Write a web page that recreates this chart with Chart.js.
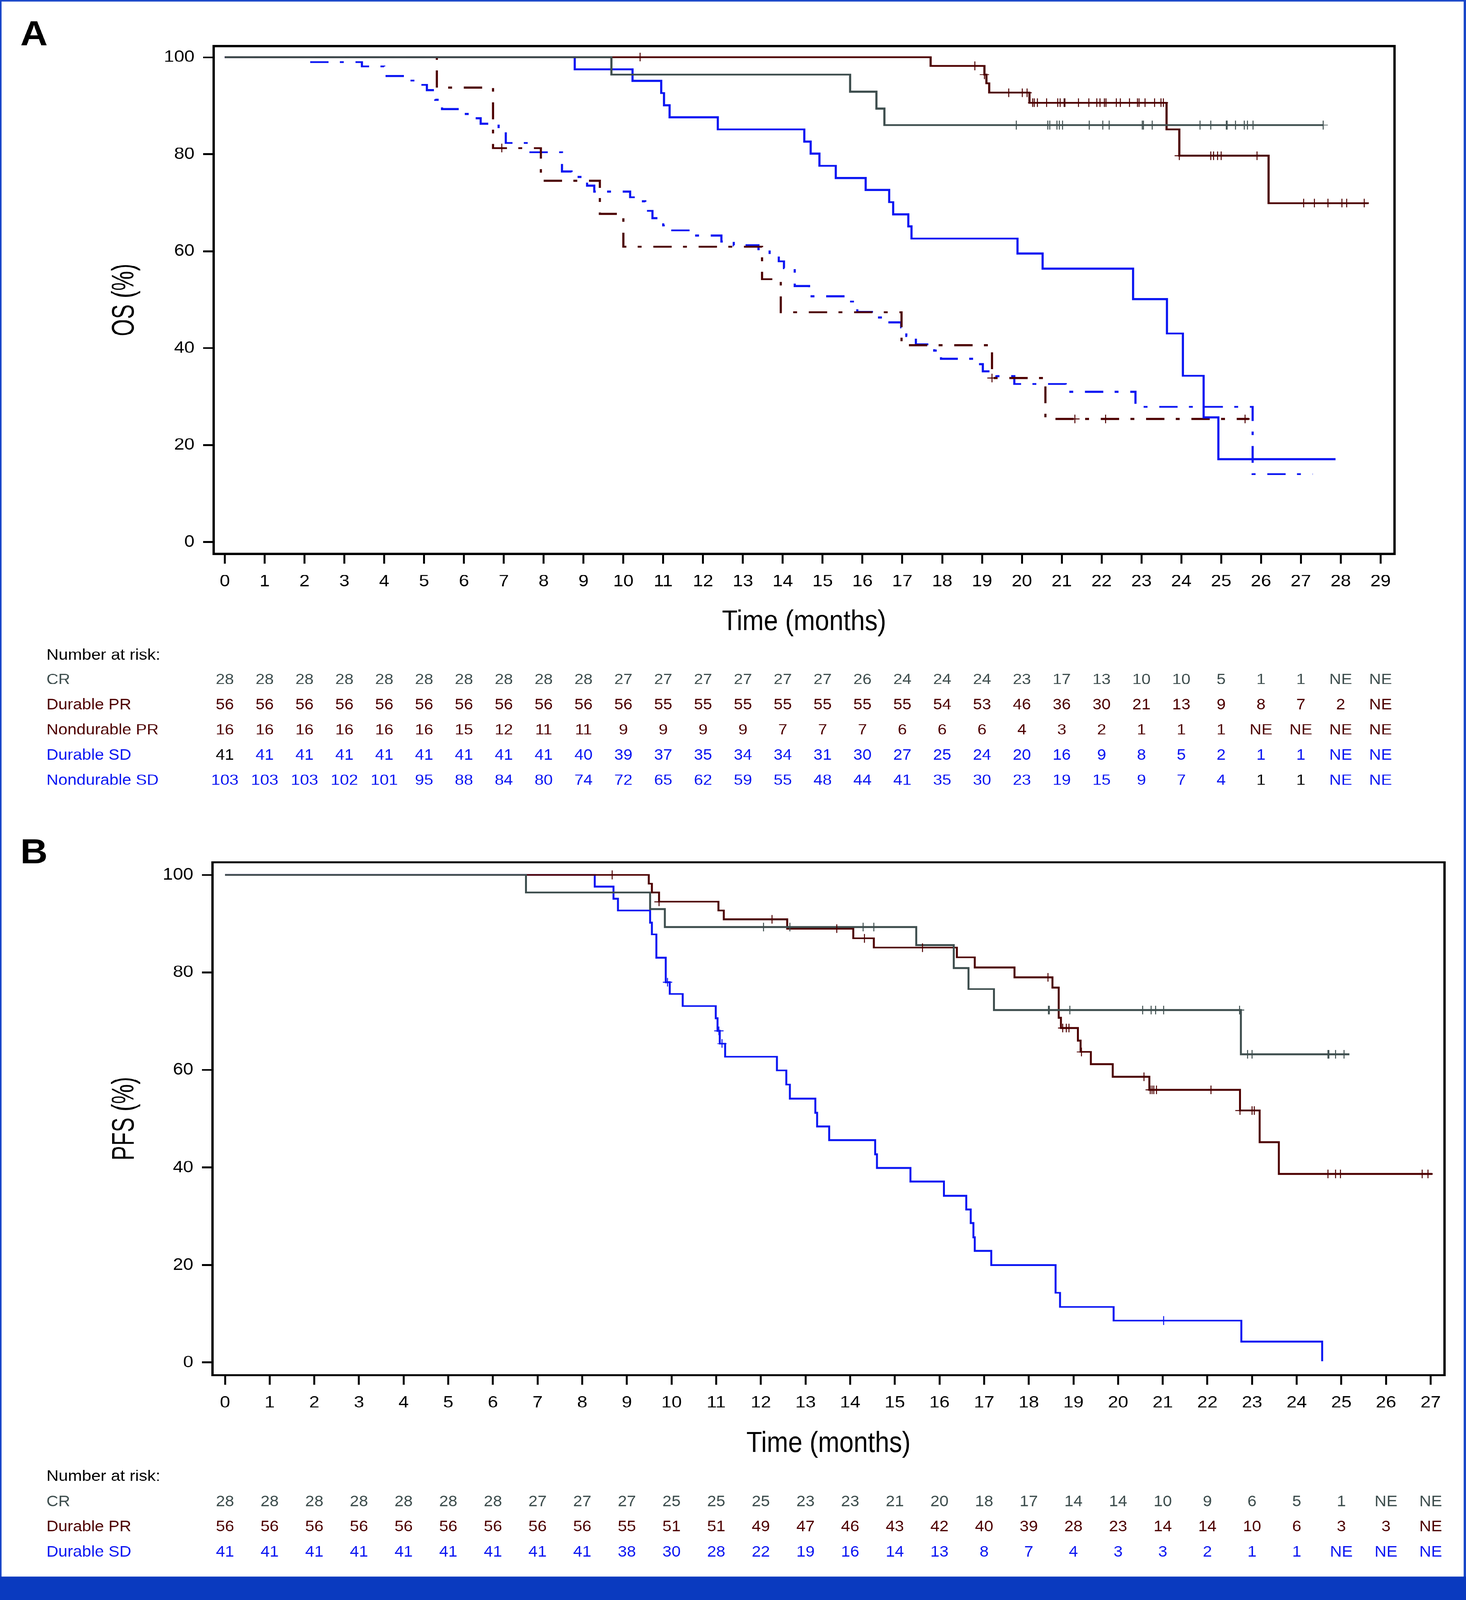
<!DOCTYPE html>
<html>
<head>
<meta charset="utf-8">
<title>OS and PFS by response</title>
<script src="https://cdn.jsdelivr.net/npm/chart.js@4.4.1/dist/chart.umd.min.js"></script>
<style>
  html, body { margin: 0; padding: 0; background: #fff; overflow: hidden; }
  #page { position: relative; width: 3753px; height: 4448px; background: #fff; overflow: hidden; transform-origin: 0 0; }
  #page canvas { position: absolute; left: 0; }
  #cA { top: 0; }
  #cB { top: 2240px; }
  #edge { position: absolute; left: 0; top: 0; width: 3753px; height: 4448px; box-sizing: border-box;
          border-top: 4px solid #1a47c9; border-left: 4px solid #1a47c9; border-right: 6px solid #1a47c9; pointer-events: none; }
  #bar { position: absolute; left: 0; top: 4383px; width: 3753px; height: 65px; background: #0a3abf; }
</style>
</head>
<body>
<div id="page">
  <canvas id="cA" width="3753" height="2240"></canvas>
  <canvas id="cB" width="3753" height="2143"></canvas>
  <div id="edge"></div>
  <div id="bar"></div>
</div>
<script>
// ---------- panel A : OS ----------
const osTicksX = [0,1,2,3,4,5,6,7,8,9,10,11,12,13,14,15,16,17,18,19,20,21,22,23,24,25,26,27,28,29];
const osTicksY = [0,20,40,60,80,100];

const osCrT = [0, 9.70, 15.69, 16.35, 16.55, 27.56];
const osCrS = [100, 96.4, 92.9, 89.4, 86.0, 86.0];
const osCrCens = [19.86,20.65,20.70,20.88,20.94,21.02,21.69,22.03,22.19,23.02,23.05,23.27,24.47,24.74,25.13,25.15,25.36,25.58,25.66,25.80,27.56];

const osDprT = [0, 17.71, 19.06, 19.11, 19.18, 20.19, 23.63, 23.95, 26.19, 28.70];
const osDprS = [100, 98.2, 96.4, 94.6, 92.7, 90.6, 85.1, 79.7, 69.9, 69.9];
const osDprCens = [10.42,18.82,19.06,19.67,20.01,20.13,20.27,20.31,20.39,20.62,20.90,20.96,21.06,21.08,21.42,21.68,21.88,21.96,22.07,22.11,22.37,22.47,22.70,22.90,22.94,23.09,23.33,23.49,23.55,23.95,24.74,24.81,24.91,25.00,25.90,27.07,27.34,27.68,28.03,28.15,28.59];

const osNprT = [0, 5.32, 6.73, 7.93, 9.41, 10.00, 13.48, 13.95, 16.98, 19.25, 20.59, 25.70];
const osNprS = [100, 93.75, 81.25, 74.5, 67.7, 60.9, 54.2, 47.4, 40.6, 33.85, 25.4, 25.4];
const osNprCens = [6.95, 19.25, 21.33, 22.10, 25.60];

const osDsdT = [0, 8.78, 10.23, 10.95, 11.02, 11.16, 12.37, 14.54, 14.70, 14.92, 15.33, 16.08, 16.67, 16.77, 17.15, 17.23, 19.89, 20.52, 22.79, 23.64, 24.04, 24.56, 24.93, 27.87];
const osDsdS = [100, 97.5, 95.1, 92.6, 90.1, 87.6, 85.1, 82.6, 80.1, 77.6, 75.1, 72.6, 70.1, 67.6, 65.1, 62.6, 59.5, 56.4, 50.1, 43.0, 34.3, 25.7, 17.1, 17.1];

const osNsdT = [0, 2.13, 3.44, 4.00, 4.55, 4.85, 5.07, 5.28, 5.45, 5.90, 6.20, 6.42, 6.87, 7.05, 7.67, 8.46, 8.70, 9.09, 9.27, 10.17, 10.35, 10.55, 10.73, 11.00, 11.20, 11.70, 12.46, 12.77, 13.39, 13.67, 13.90, 14.03, 14.30, 14.66, 15.60, 15.87, 16.30, 16.55, 16.97, 17.10, 17.34, 17.80, 17.97, 18.90, 19.02, 19.36, 19.81, 21.10, 22.85, 25.79, 27.30];
const osNsdS = [100, 99.0, 98.1, 96.1, 95.2, 94.3, 93.2, 91.2, 89.3, 88.3, 87.4, 86.3, 85.3, 82.3, 80.4, 76.4, 75.3, 73.5, 72.3, 71.1, 70.3, 68.3, 66.8, 65.3, 64.3, 63.2, 62.0, 61.2, 60.4, 59.3, 57.9, 56.5, 52.8, 50.7, 49.6, 47.5, 46.3, 45.3, 44.3, 42.5, 40.8, 39.5, 37.8, 36.7, 35.2, 34.2, 32.6, 31.0, 27.9, 14.0, 14.0];

const osRiskCR  = ['28','28','28','28','28','28','28','28','28','28','27','27','27','27','27','27','26','24','24','24','23','17','13','10','10','5','1','1','NE','NE'];
const osRiskDPR = ['56','56','56','56','56','56','56','56','56','56','56','55','55','55','55','55','55','55','54','53','46','36','30','21','13','9','8','7','2','NE'];
const osRiskNPR = ['16','16','16','16','16','16','15','12','11','11','9','9','9','9','7','7','7','6','6','6','4','3','2','1','1','1','NE','NE','NE','NE'];
const osRiskDSD = ['41','41','41','41','41','41','41','41','41','40','39','37','35','34','34','31','30','27','25','24','20','16','9','8','5','2','1','1','NE','NE'];
const osRiskNSD = ['103','103','103','102','101','95','88','84','80','74','72','65','62','59','55','48','44','41','35','30','23','19','15','9','7','4','1','1','NE','NE'];

// ---------- panel B : PFS ----------
const pfsTicksX = [0,1,2,3,4,5,6,7,8,9,10,11,12,13,14,15,16,17,18,19,20,21,22,23,24,25,26,27];
const pfsTicksY = [0,20,40,60,80,100];

const pfsCrT = [0, 6.74, 9.52, 9.85, 15.48, 16.32, 16.65, 17.22, 22.75, 25.18];
const pfsCrS = [100, 96.4, 93.0, 89.3, 85.6, 80.9, 76.6, 72.3, 63.2, 63.2];
const pfsCrCens = [12.06,12.65,14.29,14.53,18.44,18.46,18.92,20.55,20.74,20.84,21.02,22.72,22.90,23.00,24.70,24.72,24.87,25.06];

const pfsDprT = [0, 9.49, 9.56, 9.72, 11.05, 11.17, 12.59, 14.07, 14.53, 16.39, 16.79, 17.68, 18.53, 18.67, 18.72, 19.10, 19.16, 19.39, 19.88, 20.70, 22.73, 23.17, 23.60, 27.04];
const pfsDprS = [100, 98.2, 96.4, 94.5, 92.7, 90.9, 89.0, 87.0, 85.1, 83.1, 81.0, 79.0, 76.9, 70.7, 68.6, 66.0, 63.7, 61.2, 58.6, 55.9, 51.7, 45.2, 38.7, 38.7];
const pfsDprCens = [8.67,9.72,12.25,13.70,14.32,15.62,18.43,18.76,18.84,18.90,19.18,20.58,20.72,20.76,20.80,20.86,22.08,22.73,23.00,23.05,24.70,24.87,24.98,26.81,26.94];

const pfsDsdT = [0, 8.28, 8.70, 8.80, 9.52, 9.56, 9.66, 9.87, 9.96, 10.25, 10.99, 11.03, 11.08, 11.20, 12.36, 12.57, 12.65, 13.22, 13.26, 13.53, 14.56, 14.60, 15.35, 16.10, 16.60, 16.70, 16.76, 16.79, 17.16, 18.60, 18.70, 19.90, 22.76, 24.57];
const pfsDsdS = [100, 97.6, 95.1, 92.7, 90.2, 87.8, 83.0, 78.0, 75.6, 73.1, 70.6, 68.0, 65.4, 62.7, 59.9, 57.0, 54.1, 51.2, 48.4, 45.6, 42.7, 39.9, 37.1, 34.2, 31.4, 28.6, 25.7, 22.9, 20.0, 14.3, 11.4, 8.6, 4.3, 0.3];
const pfsDsdCens = [9.91, 11.06, 11.13, 21.02];

const pfsRiskCR  = ['28','28','28','28','28','28','28','27','27','27','25','25','25','23','23','21','20','18','17','14','14','10','9','6','5','1','NE','NE'];
const pfsRiskDPR = ['56','56','56','56','56','56','56','56','56','55','51','51','49','47','46','43','42','40','39','28','23','14','14','10','6','3','3','NE'];
const pfsRiskDSD = ['41','41','41','41','41','41','41','41','41','38','30','28','22','19','16','14','13','8','7','4','3','3','2','1','1','NE','NE','NE'];

// ---------- styling ----------
const RED = '#4d0000', BLUE = '#0b16f2', GRAY = '#3e4e4e';
const FONT = '"Liberation Sans", Arial, Helvetica, sans-serif';
const DASHDOT = [47, 29, 10, 30];

Chart.defaults.font.family = FONT;
Chart.defaults.color = '#000';

// the window may be shorter than the figure: squeeze the page to fit it
const fitY = Math.min(1, window.innerHeight / 4448);
document.getElementById('page').style.transform = 'scale(1,' + fitY + ')';

function steps(t, s) { return t.map((x, i) => ({ x: x, y: s[i] })); }
function levelAt(t, s, x) {
  let v = s[0];
  for (let i = 0; i < t.length; i++) if (t[i] <= x) v = s[i];
  return v;
}
function curve(t, s, color, width, dash) {
  return { data: steps(t, s), borderColor: color, borderWidth: width, borderDash: dash || [],
           stepped: 'before', pointRadius: 0, fill: false, tension: 0 };
}
function censor(t, s, c, color) {
  return { data: c.map(x => ({ x: x, y: levelAt(t, s, x) })), showLine: false,
           pointStyle: 'cross', pointRadius: 12, pointBorderWidth: 2.5,
           borderColor: color, backgroundColor: color };
}

// condensed text: no narrow face is installed, so squeeze the regular one
function narrowText(ctx, text, x, y, rot, squeeze) {
  ctx.save();
  ctx.translate(x, y);
  ctx.rotate(rot);
  ctx.scale(squeeze, 1);
  ctx.fillText(text, 0, 0);
  ctx.restore();
}

// frame, axis titles, panel letter and number-at-risk table
function extras(cfg) {
  return {
    id: 'extras' + cfg.letter,
    afterDraw(chart) {
      const ctx = chart.ctx, a = chart.chartArea, xs = chart.scales.x;
      ctx.save();
      ctx.lineWidth = 6;
      ctx.strokeStyle = '#000';
      ctx.strokeRect(a.left, a.top, a.right - a.left, a.bottom - a.top);

      ctx.fillStyle = '#000';
      ctx.font = '80px ' + FONT;
      ctx.textAlign = 'center';
      ctx.textBaseline = 'middle';
      narrowText(ctx, 'Time (months)', (a.left + a.right) / 2, cfg.xTitleY, 0, 0.82);
      narrowText(ctx, cfg.yTitle, 320, (a.top + a.bottom) / 2, -Math.PI / 2, 0.77);

      ctx.textAlign = 'left';
      ctx.textBaseline = 'alphabetic';
      ctx.font = 'bold 97px ' + FONT;
      ctx.fillText(cfg.letter, 52, cfg.letterY);

      ctx.font = '43px ' + FONT;
      ctx.textBaseline = 'middle';
      ctx.fillText('Number at risk:', 119, cfg.headY);
      ctx.font = '42px ' + FONT;
      cfg.rows.forEach((r, k) => {
        const y = cfg.rowY[k];
        ctx.textAlign = 'left';
        ctx.fillStyle = r.color;
        ctx.fillText(r.name, 119, y);
        ctx.textAlign = 'center';
        r.counts.forEach((n, i) => {
          ctx.fillStyle = (r.black && r.black.indexOf(i) >= 0) ? '#000' : r.color;
          ctx.fillText(n, xs.getPixelForValue(cfg.ticks[i]), y);
        });
      });
      ctx.restore();
    }
  };
}

function axes(o) {
  const grid = { drawOnChartArea: false, drawTicks: true, tickLength: 27, tickWidth: 5, tickColor: '#000' };
  return {
    x: {
      type: 'linear', min: o.xMin, max: o.xMax,
      afterBuildTicks: s => { s.ticks = o.ticksX.map(v => ({ value: v })); },
      afterFit: s => { s.height = o.xHeight; },
      grid: grid, border: { display: false },
      ticks: { font: { size: 47 }, color: '#000', padding: 22, maxRotation: 0, autoSkip: false }
    },
    y: {
      min: o.yMin, max: o.yMax,
      afterBuildTicks: s => { s.ticks = o.ticksY.map(v => ({ value: v })); },
      afterFit: s => { s.width = o.yWidth; },
      grid: grid, border: { display: false },
      ticks: { font: { size: 47 }, color: '#000', padding: 22 }
    }
  };
}

const common = {
  responsive: false, animation: false, devicePixelRatio: 1,
  plugins: { legend: { display: false }, tooltip: { enabled: false } }
};

new Chart(document.getElementById('cA'), {
  type: 'line',
  data: { datasets: [
    censor(osCrT, osCrS, osCrCens, GRAY),
    censor(osDprT, osDprS, osDprCens, RED),
    censor(osNprT, osNprS, osNprCens, RED),
    curve(osCrT, osCrS, GRAY, 5.5),
    curve(osDprT, osDprS, RED, 5.5),
    curve(osDsdT, osDsdS, BLUE, 5.5),
    curve(osNprT, osNprS, RED, 5.5, DASHDOT),
    curve(osNsdT, osNsdS, BLUE, 5.5, DASHDOT)
  ] },
  options: Object.assign({}, common, {
    layout: { padding: { left: 0, top: 128, right: 183, bottom: 0 } },
    scales: axes({ xMin: -0.28, xMax: 29.35, yMin: -2.45, yMax: 102.3, ticksX: osTicksX, ticksY: osTicksY,
                   xHeight: 700, yWidth: 547 })
  }),
  plugins: [extras({
    letter: 'A', letterY: 126, xTitleY: 1730, yTitle: 'OS (%)',
    headY: 1822, rowY: [1890, 1960, 2030, 2100, 2170], ticks: osTicksX,
    rows: [
      { name: 'CR', color: GRAY, counts: osRiskCR },
      { name: 'Durable PR', color: RED, counts: osRiskDPR },
      { name: 'Nondurable PR', color: RED, counts: osRiskNPR },
      { name: 'Durable SD', color: BLUE, counts: osRiskDSD, black: [0] },
      { name: 'Nondurable SD', color: BLUE, counts: osRiskNSD, black: [26, 27] }
    ]
  })]
});

new Chart(document.getElementById('cB'), {
  type: 'line',
  data: { datasets: [
    censor(pfsCrT, pfsCrS, pfsCrCens, GRAY),
    censor(pfsDprT, pfsDprS, pfsDprCens, RED),
    censor(pfsDsdT, pfsDsdS, pfsDsdCens, BLUE),
    curve(pfsCrT, pfsCrS, GRAY, 5),
    curve(pfsDprT, pfsDprS, RED, 5),
    curve(pfsDsdT, pfsDsdS, BLUE, 5)
  ] },
  options: Object.assign({}, common, {
    layout: { padding: { left: 0, top: 157, right: 55, bottom: 0 } },
    scales: axes({ xMin: -0.28, xMax: 27.31, yMin: -2.6, yMax: 102.6, ticksX: pfsTicksX, ticksY: pfsTicksY,
                   xHeight: 560, yWidth: 544 })
  }),
  plugins: [extras({
    letter: 'B', letterY: 160, xTitleY: 1774, yTitle: 'PFS (%)',
    headY: 1865, rowY: [1935, 2005, 2075], ticks: pfsTicksX,
    rows: [
      { name: 'CR', color: GRAY, counts: pfsRiskCR },
      { name: 'Durable PR', color: RED, counts: pfsRiskDPR },
      { name: 'Durable SD', color: BLUE, counts: pfsRiskDSD }
    ]
  })]
});
</script>
</body>
</html>
